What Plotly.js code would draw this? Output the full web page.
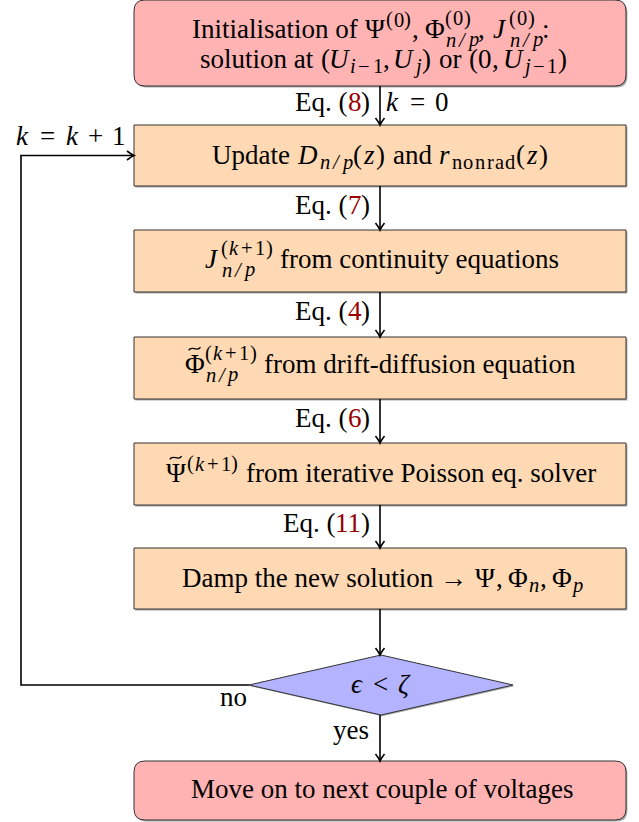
<!DOCTYPE html>
<html><head><meta charset="utf-8">
<script src="https://cdn.plot.ly/plotly-3.0.1.min.js"></script>
<style>html,body{margin:0;padding:0;background:#fff}#chart{width:639px;height:822px}</style>
</head><body><div id="chart"></div>
<script>
// ---------- content (tokens: r = text, m = math roman, i = math italic, c = coloured ref, tilde = accented math) ----------
const kp1 = [["m", "("], ["i", "k"], ["m", "+1)"]];
const np = [["i", "n/p"]];
const initLine1 = [["r", "Initialisation of "], ["m", "Ψ"], ["sup", [["m", "(0)"]]], ["r", ", "], ["m", "Φ"], ["supsub", [["m", "(0)"]], np],
  ["r", ", "], ["i", "J"], ["supsub", [["m", "(0)"]], np], ["r", ":"]];
const initLine2 = [["r", "solution at "], ["m", "("], ["i", "U"], ["sub", [["i", "i"], ["m", "−1"]]], ["m", ","], ["i", "U"],
  ["sub", [["i", "j"]]], ["m", ")"], ["r", " or "], ["m", "(0,"], ["i", "U"], ["sub", [["i", "j"], ["m", "−1"]]], ["m", ")"]];
const stepLabels = [
  [["r", "Update "], ["i", "D"], ["sub", np], ["m", "("], ["i", "z"], ["m", ")"], ["r", " and "], ["i", "r"], ["sub", [["m", "nonrad"]]], ["m", "("], ["i", "z"], ["m", ")"]],
  [["i", "J"], ["supsub", kp1, np], ["r", " from continuity equations"]],
  [["tilde", "Φ"], ["supsub", kp1, np], ["r", " from drift-diffusion equation"]],
  [["tilde", "Ψ"], ["sup", kp1], ["r", " from iterative Poisson eq. solver"]],
  [["r", "Damp the new solution"], ["m", "→Ψ,Φ"], ["sub", [["i", "n"]]], ["m", ",Φ"], ["sub", [["i", "p"]]]]
];
const decisionLabel = [["i", "ϵ"], ["m", "<"], ["i", "ζ"]];
const finalLabel = [["r", "Move on to next couple of voltages"]];
const eqRefs = ["8", "7", "4", "6", "11"];
const startLabel = [["i", "k"], ["m", "=0"]];
const loopLabel = [["i", "k"], ["m", "="], ["i", "k"], ["m", "+1"]];
const branchLabels = ["no", "yes"];

// ---------- geometry (pixel layout) ----------
const W = 639, H = 822;
const bx0 = 134, bx1 = 626, cx = 380;
const topBox = [0, 86];
const stepBoxes = [[125, 186], [230, 292], [337, 399], [443, 505], [548, 609]];
const stepBaseline = [164, 268, 373, 482, 587];
const stepCenter = [380.5, 381, 380, 380.5, 382];
const diamond = {cx: 381, cy: 685, hw: 132, hh: 30};
const finalBox = [761, 820];
const loopX = 21;

const colRed = "#ffb3b3", colOrange = "#ffd9b3", colBlue = "#b3b3ff", colRef = "#990000";
const edge = "#333333", shadow = "rgba(0,0,0,0.35)";
const FAMILY = "Liberation Serif";
const FS = 27, SCR = 0.7, SCR_DRAW = 0.76;

// Computer-Modern-like advance widths (em) for math glyphs, text size / script size
const cm10 = {"(": .389, ")": .389, "0": .5, "1": .5, "+": .778, "=": .778, "−": .778, ",": .278, "<": .778, "→": 1.0,
  "Ψ": .778, "Φ": .722, "D": .828, "U": .683, "J": .633, "z": .465, "r": .451, "k": .521, "n": .6, "p": .503,
  "i": .345, "j": .412, "/": .5, "ϵ": .406, "ζ": .438};
const cm7 = {"(": .446, ")": .446, "0": .569, "1": .569, "+": .877, "−": .893, "k": .598, "n": .706, "p": .591,
  "i": .405, "j": .47, "/": .569, "o": .569, "r": .446, "a": .569, "d": .623};
const rel = "=<→", bin = "+−";

// ---------- mini typesetter ----------
const ctx = document.createElement("canvas").getContext("2d");
function mw(t, it, size) { ctx.font = `${it ? "italic " : ""}${size}px "${FAMILY}"`; return ctx.measureText(t).width; }
const tildes = [];
function layoutTokens(tokens, size, out, x0, shift, script) {
  let x = x0;
  const tbl = script ? cm7 : cm10;
  const adv = script ? 0.95 : 1;
  const drawSize = script ? FS * SCR_DRAW : size;
  for (const tk of tokens) {
    const k = tk[0];
    if (k === "r" || k === "c") {
      out.push({x, dy: shift, t: tk[1], it: false, size, color: k === "c" ? colRef : "#000"});
      x += mw(tk[1], false, size);
    } else if (k === "m" || k === "i" || k === "tilde") {
      for (const ch of tk[1]) {
        const it = k === "i";
        const w = tbl[ch] != null ? tbl[ch] * size * adv : mw(ch, it, size) * 1.05;
        let pre = 0, post = 0;
        if (!script && rel.includes(ch)) { pre = post = 0.278 * size; if (x === x0) pre = 0; }
        if (!script && bin.includes(ch)) { pre = post = 0.222 * size; }
        if (!script && ch === ",") post = 0.167 * size;
        x += pre;
        out.push({x: x + w / 2, dy: shift, t: ch, it, size: drawSize, color: "#000", center: true});
        if (k === "tilde") out.push({tilde: true, x: x + w / 2, dy: shift - 0.9 * size, size});
        x += w + post;
      }
    } else {
      const ss = size * SCR;
      const sup = (k === "sup" || k === "supsub") ? tk[1] : null;
      const sub = k === "sub" ? tk[1] : (k === "supsub" ? tk[2] : null);
      const both = !!(sup && sub);
      let wsup = 0, wsub = 0;
      if (sup) wsup = layoutTokens(sup, ss, out, x, shift - size * (both ? 0.47 : 0.42), true) - x;
      if (sub) wsub = layoutTokens(sub, ss, out, x, shift + size * (both ? 0.33 : 0.2), true) - x;
      x += Math.max(wsup, wsub);
    }
  }
  return x;
}
const annotations = [];
function esc(s) { return s.replace(/&/g, "&amp;").replace(/</g, "&lt;").replace(/>/g, "&gt;"); }
function drawLine(tokens, x, baseline, anchor) {
  const pieces = [];
  const w = layoutTokens(tokens, FS, pieces, 0, 0, false);
  const start = anchor === "right" ? x - w : anchor === "left" ? x : x - w / 2;
  for (const p of pieces) {
    if (p.tilde) { tildes.push({x: start + p.x, y: baseline + p.dy, s: p.size}); continue; }
    const lead = p.t.length - p.t.replace(/^\s+/, "").length;
    const t = p.t.trim();
    if (!t) continue;
    const px = start + p.x + (lead ? mw(p.t.slice(0, lead), p.it, p.size) : 0);
    annotations.push({x: px, y: baseline + p.dy - 0.3375 * p.size, xref: "x", yref: "y", text: esc(t), showarrow: false,
      xanchor: p.center ? "center" : "left", yanchor: "middle", borderpad: 0, borderwidth: 0,
      font: {family: FAMILY, size: p.size, color: p.color, style: p.it ? "italic" : "normal"}});
  }
}

// ---------- shapes ----------
const shapes = [];
function roundRect(x0, y0, x1, y1, r) {
  return `M${x0+r},${y0} L${x1-r},${y0} Q${x1},${y0} ${x1},${y0+r} L${x1},${y1-r} Q${x1},${y1} ${x1-r},${y1} L${x0+r},${y1} Q${x0},${y1} ${x0},${y1-r} L${x0},${y0+r} Q${x0},${y0} ${x0+r},${y0} Z`;
}
function addShadowed(main, shad, fill) {
  shapes.push({type: "path", xref: "x", yref: "y", path: shad, fillcolor: shadow, line: {width: 0}, layer: "above"});
  shapes.push({type: "path", xref: "x", yref: "y", path: main, fillcolor: fill, line: {color: edge, width: 1}, layer: "above"});
}
function box(y0, y1, r, fill) { addShadowed(roundRect(bx0, y0, bx1, y1, r), roundRect(bx0 + 1.4, y0 + 1.4, bx1 + 1.4, y1 + 1.4, r), fill); }
function seg(path, w) { shapes.push({type: "path", xref: "x", yref: "y", path, line: {color: "#000", width: w || 1.6}, layer: "above"}); }
function downArrow(x, y0, y1) {
  seg(`M${x},${y0} L${x},${y1 - 0.8}`);
  seg(`M${x - 4.5},${y1 - 7} Q${x - 1},${y1 - 2.5} ${x},${y1} Q${x + 1},${y1 - 2.5} ${x + 4.5},${y1 - 7}`);
}
function rightArrow(x0, x1, y) {
  seg(`M${x0},${y} L${x1 - 0.8},${y}`);
  seg(`M${x1 - 7},${y - 4.5} Q${x1 - 2.5},${y - 1} ${x1},${y} Q${x1 - 2.5},${y + 1} ${x1 - 7},${y + 4.5}`);
}

box(topBox[0], topBox[1], 11, colRed);
stepBoxes.forEach(b => box(b[0], b[1], 0, colOrange));
const d = diamond;
const dpath = o => `M${d.cx - d.hw + o},${d.cy + o} L${d.cx + o},${d.cy - d.hh + o} L${d.cx + d.hw + o},${d.cy + o} L${d.cx + o},${d.cy + d.hh + o} Z`;
addShadowed(dpath(0), dpath(1.2), colBlue);
box(finalBox[0], finalBox[1], 11, colRed);

const tops = [topBox[1]].concat(stepBoxes.map(b => b[1]));
const bottoms = stepBoxes.map(b => b[0]).concat([d.cy - d.hh]);
for (let i = 0; i < tops.length; i++) downArrow(cx, tops[i], bottoms[i]);
downArrow(cx, d.cy + d.hh, finalBox[0]);
const loopY = (stepBoxes[0][0] + stepBoxes[0][1]) / 2;
seg(`M${d.cx - d.hw},${d.cy} L${loopX},${d.cy} L${loopX},${loopY}`);
rightArrow(loopX - 0.8, bx0, loopY);

// ---------- texts ----------
drawLine(initLine1, 371, 38, "center");
drawLine(initLine2, 384, 68, "center");
stepLabels.forEach((t, i) => drawLine(t, stepCenter[i], stepBaseline[i], "center"));
drawLine(decisionLabel, d.cx, 693, "center");
drawLine(finalLabel, 382, 798, "center");
eqRefs.forEach((r, i) => drawLine([["r", "Eq. ("], ["c", r], ["r", ")"]], 370, (tops[i] + bottoms[i]) / 2 + 6, "right"));
drawLine(startLabel, 385, (tops[0] + bottoms[0]) / 2 + 6, "left");
drawLine(loopLabel, 15, 145, "left");
drawLine([["r", branchLabels[0]]], 220, 706, "left");
drawLine([["r", branchLabels[1]]], 369, 739, "right");

// tilde accents drawn as small curves
tildes.forEach(t => {
  const hw = 0.22 * t.s, a = 0.06 * t.s;
  seg(`M${t.x - hw},${t.y + a} C${t.x - hw * 0.45},${t.y - a * 2.6} ${t.x + hw * 0.45},${t.y + a * 2.6} ${t.x + hw},${t.y - a}`, 1.3);
});

const layout = {
  width: W, height: H, margin: {l: 0, r: 0, t: 0, b: 0},
  paper_bgcolor: "#fff", plot_bgcolor: "#fff", showlegend: false,
  xaxis: {range: [0, W], visible: false, fixedrange: true},
  yaxis: {range: [H, 0], visible: false, fixedrange: true},
  shapes, annotations
};
Plotly.newPlot("chart", [{x: [0], y: [0], mode: "markers", marker: {opacity: 0}, hoverinfo: "skip"}], layout, {displayModeBar: false, staticPlot: true});
</script></body></html>
